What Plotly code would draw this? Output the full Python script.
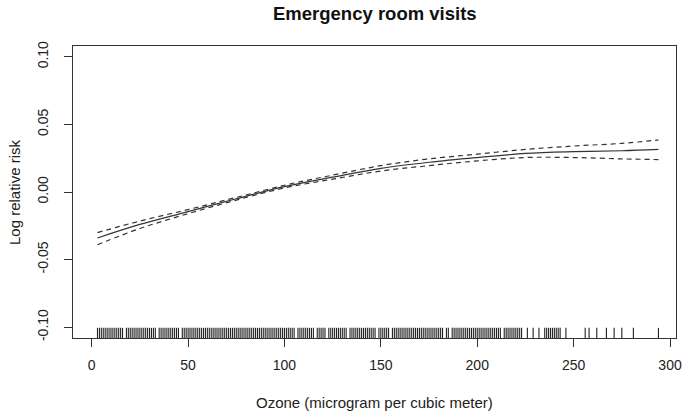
import plotly.graph_objects as go

# Smooth fit (log relative risk) with 95% confidence bands
ozone = [3, 25, 50, 75, 100, 125, 150, 175, 200, 225, 250, 275, 294]
fit = [-0.034, -0.024, -0.0145, -0.005, 0.004, 0.011, 0.0175, 0.022, 0.0255, 0.0285, 0.0298, 0.0305, 0.0315]
upper = [-0.030, -0.0215, -0.013, -0.004, 0.005, 0.0125, 0.0195, 0.0245, 0.028, 0.0315, 0.034, 0.036, 0.0385]
lower = [-0.039, -0.027, -0.016, -0.006, 0.003, 0.0095, 0.0155, 0.0195, 0.023, 0.0255, 0.0255, 0.0245, 0.024]

# Observed ozone values (rug)
rug_values = [
    3, 4, 5, 6, 7, 8, 9, 10, 11, 12, 13, 14, 15, 16,
    18, 19, 20, 21, 22, 23, 24, 25, 26, 27, 28, 29, 30, 31, 32, 33,
    35, 36, 37, 38, 39, 40, 41, 42, 43, 44, 45,
    47, 48, 49, 50, 51, 52, 53, 54, 55, 56, 57, 58, 59, 60, 61, 62, 63, 64, 65,
    66, 67, 68, 69, 70, 71, 72, 73, 74, 75, 76, 77, 78, 79, 80, 81, 82, 83, 84,
    85, 86, 87, 88, 89, 90, 91, 92, 93, 94, 95, 96, 97, 98, 99, 100, 101, 102,
    103, 104, 105,
    107, 108, 109, 110, 111, 112, 113, 114, 115,
    117, 118, 119, 120, 121,
    123, 124, 125, 126, 127, 128, 129, 130, 131, 132,
    134, 135, 136, 137, 138, 139, 140, 141, 142, 143, 144, 145, 146, 147,
    149, 150, 151, 152, 153, 154,
    156, 157, 158, 159, 160, 161, 162, 163, 164, 165, 166, 167, 168, 169, 170,
    171, 172, 173, 174, 175, 176, 177, 178, 179, 180, 181, 182,
    184, 185,
    187, 188, 189, 190, 191, 192, 193, 194, 195, 196, 197, 198, 199, 200, 201,
    202, 203, 204, 205, 206, 207, 208, 209, 210, 211, 212,
    214, 215, 216, 217, 218, 219, 220, 221, 222, 223,
    226, 229, 232, 235, 236, 237, 238, 239, 240, 241, 242, 243, 246,
    256, 258, 262, 267, 271, 275, 281, 294,
]

x_ticks = [0, 50, 100, 150, 200, 250, 300]
y_ticks = [-0.10, -0.05, 0.00, 0.05, 0.10]
y_tick_labels = ["-0.10", "-0.05", "0.00", "0.05", "0.10"]

RUG_BOTTOM = -0.108
RUG_TOP = -0.1005

rug_x, rug_y = [], []
for v in rug_values:
    rug_x += [v, v, None]
    rug_y += [RUG_BOTTOM, RUG_TOP, None]

ink = "#333333"
fig = go.Figure()
fig.add_trace(go.Scatter(x=rug_x, y=rug_y, mode="lines",
                         line=dict(color="#222222", width=1.1), hoverinfo="skip"))
fig.add_trace(go.Scatter(x=ozone, y=upper, mode="lines", line_shape="spline",
                         line=dict(color=ink, width=1.2, dash="5px,4px")))
fig.add_trace(go.Scatter(x=ozone, y=lower, mode="lines", line_shape="spline",
                         line=dict(color=ink, width=1.2, dash="5px,4px")))
fig.add_trace(go.Scatter(x=ozone, y=fit, mode="lines", line_shape="spline",
                         line=dict(color=ink, width=1.2)))

font_family = "Liberation Sans, Arial, sans-serif"
W, H = 685, 415
L, R, T, B = 73, 9, 46, 77
fig.update_layout(
    width=W, height=H,
    margin=dict(l=L, r=R, t=T, b=B),
    paper_bgcolor="white", plot_bgcolor="white",
    showlegend=False,
    font=dict(family=font_family, size=14, color="#222222"),
    annotations=[
        dict(text="<b>Emergency room visits</b>", xref="paper", yref="paper",
             x=0.5, y=1 + 33 / (H - T - B), xanchor="center", yanchor="middle",
             showarrow=False, font=dict(size=18.5, color="#111111")),
        dict(text="Ozone (microgram per cubic meter)", xref="paper", yref="paper",
             x=0.5, y=-(403 - (H - B)) / (H - T - B), xanchor="center", yanchor="middle",
             showarrow=False, font=dict(size=15)),
        dict(text="Log relative risk", xref="paper", yref="paper", textangle=-90,
             x=-(L - 14) / (W - L - R), y=0.5, xanchor="center", yanchor="middle",
             showarrow=False, font=dict(size=15)),
    ],
)
fig.update_xaxes(
    range=[-9.7, 303.1], tickvals=x_ticks, ticks="outside", ticklen=8, tickcolor=ink,
    showline=True, linecolor=ink, linewidth=1, mirror=True, showgrid=False, zeroline=False,
    ticklabelstandoff=6, automargin=False,
)
fig.update_yaxes(
    range=[-0.108, 0.108], tickvals=y_ticks, ticktext=y_tick_labels, tickangle=-90,
    ticks="outside", ticklen=8, tickcolor=ink,
    showline=True, linecolor=ink, linewidth=1, mirror=True, showgrid=False, zeroline=False,
    ticklabelstandoff=10, automargin=False,
)
fig.write_html("out.html", config={"displayModeBar": False},
               post_script="document.body.style.margin='0';document.body.style.padding='0';")
